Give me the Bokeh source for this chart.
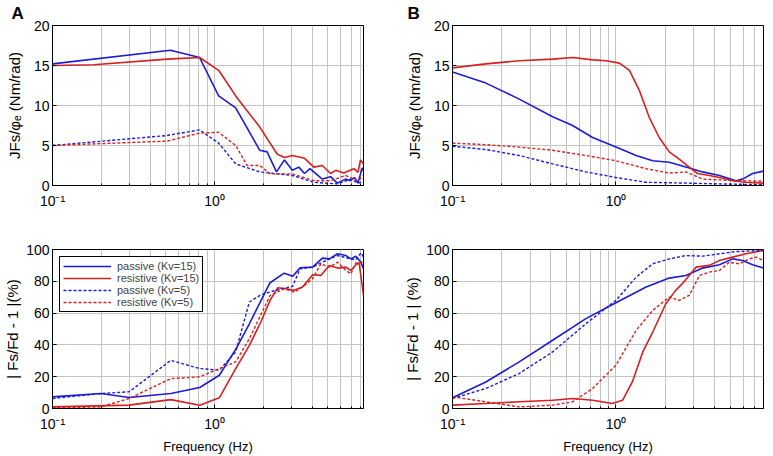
from bokeh.plotting import figure
from bokeh.layouts import column, row
from bokeh.models import FixedTicker, Title, Legend, LegendItem
from bokeh.embed import file_html
from bokeh.resources import INLINE

BLUE = "#1c1cd2"
RED = "#d42020"
FONT = "Liberation Sans"

# ---------------- Panel A, top: JFs/phi_e (Nm/rad) ----------------
a_top_pass15_f = [0.1, 0.535, 0.808, 1.06, 1.35, 1.9, 2.11, 2.41, 2.7, 3.02, 3.31, 3.59, 3.88, 4.62, 5.2, 5.72, 6.43, 6.9, 7.3, 7.67, 8.15, 8.3]
a_top_pass15_v = [15.2, 16.9, 16.0, 11.2, 9.7, 4.4, 4.2, 1.7, 3.2, 1.9, 2.3, 1.5, 2.1, 0.8, 1.1, 0.3, 0.8, 0.6, 1.0, 0.3, 2.2, 1.8]
a_top_res15_f = [0.1, 0.18, 0.51, 0.808, 1.06, 1.35, 1.9, 2.44, 2.7, 3.02, 3.59, 4.1, 4.62, 5.2, 5.58, 6.27, 7.25, 7.67, 7.95, 8.3]
a_top_res15_v = [15.0, 15.1, 15.8, 16.0, 14.4, 11.2, 7.3, 3.9, 3.5, 3.75, 3.4, 2.3, 2.5, 1.5, 1.9, 1.55, 2.1, 1.65, 3.2, 2.7]
a_top_pass5_f = [0.1, 0.51, 0.808, 1.06, 1.35, 1.9, 3.02, 4.1, 5.72, 6.9, 7.67, 8.3]
a_top_pass5_v = [5.0, 6.25, 6.95, 5.3, 2.7, 1.7, 1.25, 0.4, 0.2, 0.8, 0.3, 0.45]
a_top_res5_f = [0.1, 0.51, 0.808, 1.06, 1.35, 1.59, 1.9, 2.21, 3.02, 4.1, 5.2, 6.43, 7.67, 8.3]
a_top_res5_v = [5.0, 5.55, 6.55, 6.65, 5.0, 2.5, 2.5, 1.45, 1.45, 0.6, 0.6, 1.25, 0.6, 1.25]

# ---------------- Panel A, bottom: |Fs/Fd - 1| (%) ----------------
a_bot_pass15_f = [0.1, 0.199, 0.297, 0.537, 0.81, 1.07, 1.35, 1.64, 2.2, 2.69, 3.03, 3.37, 4.03, 4.63, 5.1, 5.74, 6.47, 6.94, 7.45, 8.0, 8.3]
a_bot_pass15_v = [7.3, 9.4, 6.9, 9.4, 13.2, 20.9, 37.2, 53.3, 79.1, 85.1, 83.1, 88.5, 88.9, 94.6, 94.1, 97.3, 96.2, 94.1, 95.8, 92.0, 87.9]
a_bot_res15_f = [0.1, 0.297, 0.537, 0.81, 1.07, 1.35, 1.64, 1.93, 2.2, 2.45, 2.76, 3.1, 3.49, 4.03, 4.53, 5.1, 5.74, 6.47, 6.94, 7.45, 7.8, 8.3]
a_bot_res15_v = [1.0, 2.1, 5.6, 2.1, 6.7, 25.1, 39.7, 54.4, 68.0, 75.9, 75.3, 74.3, 76.4, 84.1, 83.7, 90.0, 88.3, 88.9, 86.8, 90.4, 91.6, 71.1]
a_bot_pass5_f = [0.1, 0.199, 0.297, 0.537, 0.81, 1.07, 1.35, 1.64, 1.93, 2.45, 3.03, 3.37, 4.03, 4.63, 5.74, 6.94, 7.45, 8.0, 8.3]
a_bot_pass5_v = [6.3, 9.4, 10.5, 30.3, 25.1, 24.1, 35.6, 67.0, 71.5, 74.7, 76.8, 87.9, 88.9, 92.0, 96.2, 94.1, 93.5, 97.9, 95.2]
a_bot_res5_f = [0.1, 0.199, 0.297, 0.537, 0.81, 1.07, 1.35, 1.64, 2.2, 2.69, 3.1, 3.49, 4.03, 4.53, 5.1, 5.74, 6.47, 6.94, 7.45, 8.3]
a_bot_res5_v = [0.4, 1.0, 6.3, 18.8, 19.9, 25.1, 29.3, 43.9, 71.1, 75.3, 73.2, 76.4, 81.6, 91.0, 88.9, 92.0, 86.8, 84.7, 91.6, 92.0]

# ---------------- Panel B, top ----------------
b_top_res15_f = [0.1, 0.16, 0.256, 0.41, 0.543, 0.72, 0.87, 1.05, 1.21, 1.39, 1.6, 1.84, 2.12, 2.44, 2.81, 3.16, 3.73, 4.3, 5.18, 6.24, 8.0]
b_top_res15_v = [14.7, 15.2, 15.6, 15.8, 16.0, 15.7, 15.6, 15.3, 14.4, 11.9, 8.5, 6.0, 4.2, 3.3, 2.3, 1.5, 1.25, 1.0, 0.6, 0.4, 0.3]
b_top_pass15_f = [0.1, 0.16, 0.256, 0.41, 0.543, 0.72, 1.0, 1.33, 1.68, 2.12, 2.68, 3.39, 4.3, 5.43, 5.96, 6.86, 8.0]
b_top_pass15_v = [14.2, 12.8, 10.8, 8.6, 7.5, 6.0, 4.8, 3.75, 3.1, 2.9, 2.3, 1.7, 1.25, 0.6, 0.8, 1.5, 1.8]
b_top_res5_f = [0.1, 0.16, 0.256, 0.41, 0.655, 1.0, 1.53, 2.12, 2.68, 3.39, 4.3, 5.43, 8.0]
b_top_res5_v = [5.3, 5.1, 4.8, 4.4, 3.75, 3.1, 2.1, 1.55, 1.7, 0.8, 0.7, 0.6, 0.55]
b_top_pass5_f = [0.1, 0.16, 0.256, 0.41, 0.655, 1.0, 1.53, 2.68, 4.3, 8.0]
b_top_pass5_v = [4.9, 4.5, 3.75, 2.7, 1.7, 1.0, 0.4, 0.3, 0.2, 0.1]

# ---------------- Panel B, bottom ----------------
b_bot_pass15_f = [0.1, 0.16, 0.256, 0.41, 0.655, 1.0, 1.53, 2.12, 2.68, 3.39, 4.3, 5.18, 5.96, 6.86, 8.0]
b_bot_pass15_v = [6.7, 16.7, 29.3, 42.9, 56.5, 66.5, 76.4, 82.0, 83.7, 88.3, 90.4, 94.1, 93.1, 90.4, 88.3]
b_bot_pass5_f = [0.1, 0.16, 0.256, 0.41, 0.655, 1.0, 1.33, 1.68, 2.12, 2.68, 3.39, 4.3, 5.43, 8.0]
b_bot_pass5_v = [6.3, 12.6, 22.0, 35.6, 53.3, 68.0, 82.6, 91.0, 94.1, 96.2, 95.8, 97.3, 98.7, 99.4]
b_bot_res15_f = [0.1, 0.16, 0.256, 0.41, 0.543, 0.72, 0.95, 1.1, 1.26, 1.46, 1.68, 2.02, 2.32, 2.55, 3.09, 3.73, 4.3, 5.18, 6.24, 8.0]
b_bot_res15_v = [2.1, 3.1, 4.2, 5.2, 6.3, 5.2, 3.1, 5.2, 16.7, 35.6, 48.1, 65.9, 74.3, 78.5, 88.9, 90.0, 93.1, 95.2, 97.3, 99.4]
b_bot_res5_f = [0.1, 0.16, 0.256, 0.41, 0.543, 0.72, 1.0, 1.33, 1.68, 2.12, 2.44, 2.81, 3.25, 3.73, 4.3, 4.94, 5.68, 6.55, 7.2, 8.0]
b_bot_res5_v = [7.3, 4.2, 1.0, 2.1, 4.2, 12.6, 27.2, 49.2, 61.7, 70.1, 68.0, 71.1, 83.7, 85.8, 86.8, 92.0, 91.0, 94.1, 95.2, 93.1]

x_major = [0.1, 1]
x_minor = [0.2, 0.3, 0.4, 0.5, 0.6, 0.7, 0.8, 0.9, 2, 3, 4, 5, 6, 7, 8, 9]
x_labels = {0.1: "10\u207b\u00b9", 1: "10\u2070"}
y_top_ticks = [0, 5, 10, 15, 20]
y_bot_ticks = [0, 20, 40, 60, 80, 100]

legend_labels = ["passive (Kv=15)", "resistive (Kv=15)", "passive (Kv=5)", "resistive (Kv=5)"]


def make_fig(xmax, ymax, yticks, ylabel, xlabel, w, h, bl, br, bt, bb, ylab_standoff):
    p = figure(x_axis_type="log", x_range=(0.1, xmax), y_range=(0, ymax),
               width=w, height=h,
               min_border_left=bl, min_border_right=br,
               min_border_top=bt, min_border_bottom=bb,
               output_backend="svg", toolbar_location=None)
    p.xaxis.ticker = FixedTicker(ticks=x_major, minor_ticks=x_minor)
    p.xaxis.major_label_overrides = x_labels
    p.yaxis.ticker = FixedTicker(ticks=yticks)
    for ax in (p.xaxis[0], p.yaxis[0]):
        ax.major_label_text_font = FONT
        ax.major_label_text_color = "black"
        ax.axis_line_color = "black"
        ax.major_tick_line_color = "black"
        ax.minor_tick_line_color = "black"
        ax.major_tick_in = 4
        ax.major_tick_out = 0
        ax.minor_tick_in = 2
        ax.minor_tick_out = 0
        ax.axis_label_text_font = FONT
        ax.axis_label_text_font_style = "normal"
        ax.axis_label_text_color = "black"
    p.yaxis.major_label_text_font_size = "14px"
    p.xaxis.major_label_text_font_size = "14px"
    p.yaxis.axis_label_text_font_size = "15px"
    p.xaxis.axis_label_text_font_size = "13px"
    p.yaxis.major_label_standoff = 3
    p.yaxis.axis_label = ylabel
    p.yaxis.axis_label_standoff = ylab_standoff
    p.xaxis.major_label_standoff = 7
    if xlabel:
        p.xaxis.axis_label = xlabel
        p.xaxis.axis_label_standoff = 4
    p.xgrid.grid_line_color = "#c4c4c4"
    p.xgrid.minor_grid_line_color = "#c4c4c4"
    p.ygrid.grid_line_color = "#c4c4c4"
    p.outline_line_color = "black"
    p.outline_line_width = 1
    p.outline_line_alpha = 1
    p.background_fill_color = "white"
    p.border_fill_color = "white"
    return p


def add_lines(p, series):
    rs = []
    for (f, v, color, dash) in series:
        r = p.line(f, v, line_color=color, line_width=1.6 if dash == "solid" else 1.4,
                   line_dash=dash)
        rs.append(r)
    return rs


def add_letter(p, text, dx):
    t = Title(text=text, align="left", offset=dx, standoff=2, vertical_align="top",
              text_font=FONT, text_font_size="17px", text_font_style="bold",
              text_color="black")
    p.add_layout(t, "above")


DASH = "3 2"
YL_TOP = "JFs/\u03c6\u2091 (Nm/rad)"

# Panel A top
pa1 = make_fig(8.3, 20, y_top_ticks, YL_TOP, None, 400, 230, 52, 37, 25, 45, 8)
add_lines(pa1, [(a_top_pass15_f, a_top_pass15_v, BLUE, "solid"),
                (a_top_res15_f, a_top_res15_v, RED, "solid"),
                (a_top_pass5_f, a_top_pass5_v, BLUE, DASH),
                (a_top_res5_f, a_top_res5_v, RED, DASH)])
add_letter(pa1, "A", -41)

# Panel B top
pb1 = make_fig(8.0, 20, y_top_ticks, YL_TOP, None, 373, 230, 52, 10, 25, 45, 8)
add_lines(pb1, [(b_top_pass15_f, b_top_pass15_v, BLUE, "solid"),
                (b_top_res15_f, b_top_res15_v, RED, "solid"),
                (b_top_pass5_f, b_top_pass5_v, BLUE, DASH),
                (b_top_res5_f, b_top_res5_v, RED, DASH)])
add_letter(pb1, "B", -45)

# Panel A bottom
pa2 = make_fig(8.3, 100, y_bot_ticks, "| Fs/Fd - 1 |(%)", "Frequency (Hz)", 400, 226, 52, 37, 19, 48, 2)
ra = add_lines(pa2, [(a_bot_pass15_f, a_bot_pass15_v, BLUE, "solid"),
                     (a_bot_res15_f, a_bot_res15_v, RED, "solid"),
                     (a_bot_pass5_f, a_bot_pass5_v, BLUE, DASH),
                     (a_bot_res5_f, a_bot_res5_v, RED, DASH)])
legend = Legend(items=[LegendItem(label=lab, renderers=[r]) for lab, r in zip(legend_labels, ra)],
                location="top_left", margin=7, padding=3, spacing=0,
                label_height=12, glyph_height=12, glyph_width=48, label_standoff=6,
                label_text_font=FONT, label_text_font_size="11px",
                border_line_color="black", border_line_width=1, border_line_alpha=1,
                background_fill_color="white", background_fill_alpha=1)
pa2.add_layout(legend, "center")

# Panel B bottom
pb2 = make_fig(8.0, 100, y_bot_ticks, "| Fs/Fd - 1 | (%)", "Frequency (Hz)", 373, 226, 52, 10, 19, 48, 2)
add_lines(pb2, [(b_bot_pass15_f, b_bot_pass15_v, BLUE, "solid"),
                (b_bot_res15_f, b_bot_res15_v, RED, "solid"),
                (b_bot_pass5_f, b_bot_pass5_v, BLUE, DASH),
                (b_bot_res5_f, b_bot_res5_v, RED, DASH)])

layout = column(row(pa1, pb1), row(pa2, pb2))
open("out.html", "w").write(file_html(layout, INLINE))
